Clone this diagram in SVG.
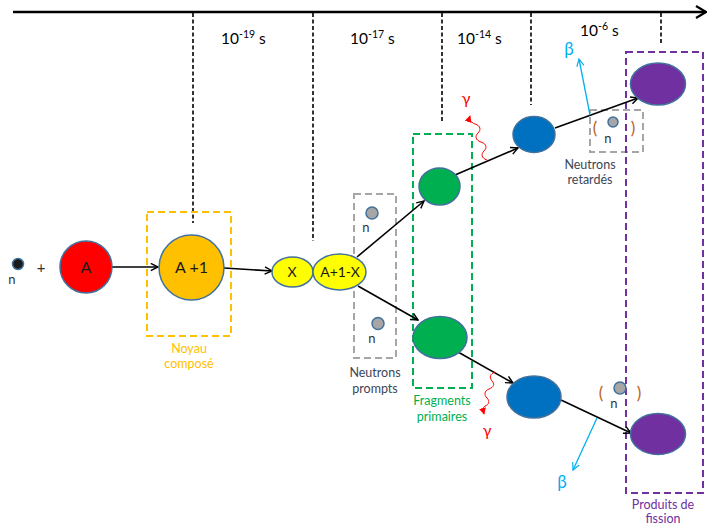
<svg xmlns="http://www.w3.org/2000/svg" width="709" height="527" viewBox="0 0 709 527">
<defs>
<style>
text{font-family:Lato,"Liberation Sans",sans-serif;}
.node{stroke:#41719C;stroke-width:1.5;}
.lbl{font-size:12.5px;text-anchor:middle;}
.ntxt{font-size:16px;text-anchor:middle;fill:#1a1a1a;}
.tick{stroke:#000;stroke-width:1.6;stroke-dasharray:4,2.5;fill:none;}
.box{fill:none;stroke-width:2;stroke-dasharray:7,4;}
.conn{stroke:#000;stroke-width:1.6;fill:none;}
.time{font-size:15.5px;fill:#000;}
.par{font-size:17px;fill:#B8621B;}
</style>
<marker id="ah" viewBox="0 0 10 10" refX="9" refY="5" markerWidth="9" markerHeight="9" markerUnits="userSpaceOnUse" orient="auto">
<path d="M1,1 L9,5 L1,9" fill="none" stroke="#000" stroke-width="1.6"/>
</marker>
<marker id="ahAxis" viewBox="0 0 12 14" refX="11" refY="7" markerWidth="12" markerHeight="14" markerUnits="userSpaceOnUse" orient="auto">
<path d="M1,1 L11,7 L1,13" fill="none" stroke="#000" stroke-width="2.2"/>
</marker>
<marker id="ahRed" viewBox="0 0 8 8" refX="7" refY="4" markerWidth="7" markerHeight="7" markerUnits="userSpaceOnUse" orient="auto">
<path d="M0,0 L8,4 L0,8 Z" fill="#FF0000"/>
</marker>
<marker id="ahBlue" viewBox="0 0 10 10" refX="9" refY="5" markerWidth="9" markerHeight="9" markerUnits="userSpaceOnUse" orient="auto">
<path d="M1,1 L9,5 L1,9" fill="none" stroke="#00B0F0" stroke-width="1.3"/>
</marker>
</defs>
<rect width="709" height="527" fill="#fff"/>

<g id="timeline">
<line x1="13" y1="12" x2="706" y2="12" stroke="#000" stroke-width="2.5" marker-end="url(#ahAxis)"/>
<line class="tick" x1="193" y1="13" x2="193" y2="223"/>
<line class="tick" x1="313" y1="13" x2="313" y2="241"/>
<line class="tick" x1="442" y1="13" x2="442" y2="122"/>
<line class="tick" x1="531" y1="13" x2="531" y2="105"/>
<line class="tick" x1="661" y1="13" x2="661" y2="45"/>
<text class="time" x="221" y="44">10<tspan font-size="10.5" dy="-6">-19</tspan><tspan dy="6"> s</tspan></text>
<text class="time" x="350" y="44">10<tspan font-size="10.5" dy="-6">-17</tspan><tspan dy="6"> s</tspan></text>
<text class="time" x="457" y="44">10<tspan font-size="10.5" dy="-6">-14</tspan><tspan dy="6"> s</tspan></text>
<text class="time" x="580" y="36">10<tspan font-size="10.5" dy="-6">-6</tspan><tspan dy="6"> s</tspan></text>
</g>

<g id="boxes">
<g id="noyau-compose">
<rect class="box" x="147" y="212" width="84" height="124" stroke="#FFC000"/>
<text class="lbl" x="189" y="353" fill="#FFC000">Noyau</text>
<text class="lbl" x="189" y="368" fill="#FFC000">composé</text>
</g>
<g id="neutrons-prompts">
<rect class="box" x="354" y="194" width="42" height="164" stroke="#A6A6A6"/>
<text class="lbl" x="375" y="377" fill="#3B4656">Neutrons</text>
<text class="lbl" x="375" y="393" fill="#3B4656">prompts</text>
</g>
<g id="fragments-primaires">
<rect class="box" x="413" y="134" width="59" height="254" stroke="#00B050"/>
<text class="lbl" x="442" y="405" fill="#00B050">Fragments</text>
<text class="lbl" x="442" y="421" fill="#00B050">primaires</text>
</g>
<g id="neutrons-retardes">
<rect class="box" x="590" y="110" width="53" height="42" stroke="#A6A6A6"/>
<text class="lbl" x="590" y="169" fill="#3B4656">Neutrons</text>
<text class="lbl" x="590" y="184" fill="#3B4656">retardés</text>
</g>
<g id="produits-fission">
<rect class="box" x="626" y="52" width="77" height="441" stroke="#7030A0"/>
<text class="lbl" x="663" y="509" fill="#7030A0">Produits de</text>
<text class="lbl" x="663" y="523" fill="#7030A0">fission</text>
</g>
</g>

<g id="connectors">
<line class="conn" x1="111" y1="267" x2="158" y2="267" marker-end="url(#ah)"/>
<line class="conn" x1="224" y1="268" x2="272" y2="271" marker-end="url(#ah)"/>
<line class="conn" x1="357" y1="257" x2="424" y2="201" marker-end="url(#ah)"/>
<line class="conn" x1="358" y1="286" x2="418" y2="320" marker-end="url(#ah)"/>
<line class="conn" x1="455" y1="175" x2="518" y2="148" marker-end="url(#ah)"/>
<line class="conn" x1="555" y1="128" x2="638" y2="98" marker-end="url(#ah)"/>
<line class="conn" x1="458" y1="352" x2="513" y2="383" marker-end="url(#ah)"/>
<line class="conn" x1="561" y1="400" x2="631" y2="433" marker-end="url(#ah)"/>
<path d="M487,160 c-6,-2 -6,-6 -3,-9 c3,-3 3,-7 -3,-9 c-6,-2 -6,-6 -3,-9 c3,-3 3,-7 -3,-9 c-5,-2 -6,-5 -5,-8" fill="none" stroke="#FF0000" stroke-width="1" marker-end="url(#ahRed)"/>
<path d="M495,372 c-5,2 -6,5 -3,9 c3,3 2,6 -3,8 c-5,2 -5,6 -2,9 c3,3 2,7 -2,8 c-2,1 -2,4 -1,8" fill="none" stroke="#FF0000" stroke-width="1" marker-end="url(#ahRed)"/>
<line x1="590" y1="115" x2="579" y2="59" stroke="#00B0F0" stroke-width="1.3" marker-end="url(#ahBlue)"/>
<line x1="597" y1="418" x2="573" y2="470" stroke="#00B0F0" stroke-width="1.3" marker-end="url(#ahBlue)"/>
<text x="466" y="104" font-size="16" fill="#FF0000" text-anchor="middle">γ</text>
<text x="487" y="436" font-size="16" fill="#FF0000" text-anchor="middle">γ</text>
<text x="569" y="55" font-size="17" fill="#00B0F0" text-anchor="middle">β</text>
<text x="562" y="488" font-size="17" fill="#00B0F0" text-anchor="middle">β</text>
</g>

<g id="neutron-in">
<circle class="node" cx="18" cy="264" r="5.5" fill="#1a1a1a"/>
<text x="12" y="284" font-size="13" fill="#333" text-anchor="middle">n</text>
<text x="41" y="273" font-size="15" fill="#333" text-anchor="middle">+</text>
</g>
<g id="node-A">
<circle class="node" cx="86" cy="267" r="26" fill="#FF0000"/>
<text class="ntxt" x="86" y="273">A</text>
</g>
<g id="node-A1">
<circle class="node" cx="191.5" cy="267.5" r="32.5" fill="#FFC000"/>
<text class="ntxt" x="191.5" y="273">A +1</text>
</g>
<g id="node-X">
<ellipse class="node" cx="292.5" cy="272" rx="20.5" ry="15" fill="#FFFF00"/>
<text class="ntxt" x="292" y="277" style="font-size:14px">X</text>
</g>
<g id="node-A1X">
<ellipse class="node" cx="339.5" cy="272" rx="26.5" ry="18" fill="#FFFF00"/>
<text class="ntxt" x="340" y="277" style="font-size:14px">A+1-X</text>
</g>
<g id="prompt-n1">
<circle class="node" cx="372" cy="213" r="6" fill="#A6A6A6"/>
<text x="366" y="232" font-size="13" fill="#333" text-anchor="middle">n</text>
</g>
<g id="prompt-n2">
<circle class="node" cx="378" cy="323.5" r="6" fill="#A6A6A6"/>
<text x="372" y="343" font-size="13" fill="#333" text-anchor="middle">n</text>
</g>
<g id="frag-up">
<ellipse class="node" cx="439.5" cy="186.5" rx="20.5" ry="18.5" fill="#00B050"/>
</g>
<g id="frag-down">
<ellipse class="node" cx="440" cy="337.5" rx="27" ry="21" fill="#00B050"/>
</g>
<g id="beta-up">
<ellipse class="node" cx="534" cy="134.5" rx="21" ry="18" fill="#0070C0"/>
</g>
<g id="beta-down">
<ellipse class="node" cx="534" cy="397" rx="27" ry="21" fill="#0070C0"/>
</g>
<g id="prod-up">
<ellipse class="node" cx="658" cy="84" rx="27.5" ry="21" fill="#7030A0"/>
</g>
<g id="prod-down">
<ellipse class="node" cx="658" cy="434" rx="27.5" ry="20.5" fill="#7030A0"/>
</g>
<g id="delayed-n1">
<text class="par" x="595" y="134" text-anchor="middle">(</text>
<circle class="node" cx="613" cy="122" r="5" fill="#A6A6A6"/>
<text class="par" x="633" y="134" text-anchor="middle">)</text>
<text x="608" y="143" font-size="13" fill="#333" text-anchor="middle">n</text>
</g>
<g id="delayed-n2">
<text class="par" x="601" y="399" text-anchor="middle">(</text>
<circle class="node" cx="620" cy="388" r="6" fill="#A6A6A6"/>
<text class="par" x="639" y="399" text-anchor="middle">)</text>
<text x="614" y="408" font-size="13" fill="#333" text-anchor="middle">n</text>
</g>
</svg>
